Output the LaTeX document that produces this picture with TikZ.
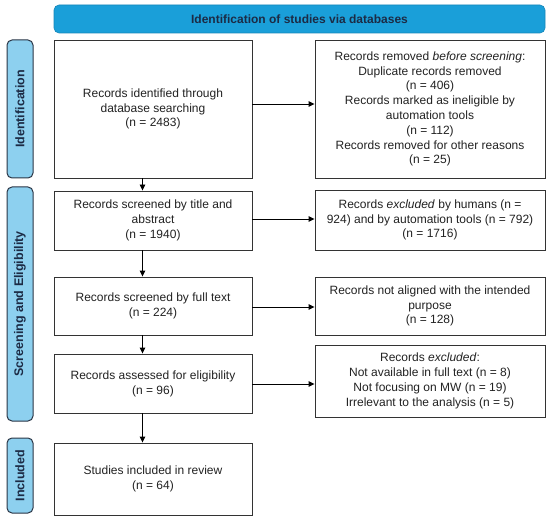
\documentclass[tikz,border=0pt]{standalone}
\usepackage{fontspec}
\setmainfont{Liberation Sans}
\usetikzlibrary{arrows.meta}
\definecolor{banner}{HTML}{1A9FD9}
\definecolor{bannerdraw}{HTML}{1786B8}
\definecolor{side}{HTML}{8DD0EF}
\definecolor{sidedraw}{HTML}{2A3545}
\definecolor{txt}{HTML}{222222}
\definecolor{navy}{HTML}{1C2B45}
\begin{document}
\begin{tikzpicture}[x=1pt,y=-1pt,
  every node/.style={font=\fontsize{12}{14.8}\selectfont, text=txt},
  box/.style={draw=black!80, line width=0.9pt, fill=white, inner sep=2pt, align=center},
  sidelab/.style={draw=sidedraw, line width=1pt, fill=side, rounded corners=5pt},
  labfont/.style={font=\bfseries\fontsize{12.5}{14}\selectfont, text=navy},
  arr/.style={-{Triangle[length=6pt,width=5.5pt]}, line width=0.9pt, draw=black}]
\useasboundingbox (0,0) rectangle (550,519);
% banner
\draw[draw=bannerdraw, fill=banner, line width=0.6pt, rounded corners=5pt] (54,5) rectangle (545,33);
\node[font=\bfseries\fontsize{12}{14}\selectfont, text=navy] (title) at (299.5,19) {Identification of studies via databases};
% side labels
\draw[sidelab] (7,40) rectangle (33,178);
\node[rotate=90, labfont] (s1) at (20,109) {Identification};
\draw[sidelab] (7,187) rectangle (33,421);
\node[rotate=90, labfont] (s2) at (20,304) {Screening and Eligibility};
\draw[sidelab] (7,438) rectangle (33,513);
\node[rotate=90, labfont] (s3) at (20,475.5) {Included};
% left boxes
\node[box, minimum width=198pt, minimum height=138pt] (b1) at (153,109) {Records identified through\\database searching\\(n = 2483)};
\node[box, minimum width=198pt, minimum height=59pt] (b2) at (153,220.5) {Records screened by title and\\abstract\\(n = 1940)};
\node[box, minimum width=198pt, minimum height=58pt] (b3) at (153,306) {Records screened by full text\\(n = 224)};
\node[box, minimum width=198pt, minimum height=59pt] (b4) at (153,383.5) {Records assessed for eligibility\\(n = 96)};
\node[box, minimum width=198pt, minimum height=72pt] (b5) at (153,479) {Studies included in review\\(n = 64)};
% right boxes
\node[box, minimum width=230pt, minimum height=138pt] (r1) at (430,109) {Records removed \textit{before screening}:\\Duplicate records removed\\(n = 406)\\Records marked as ineligible by\\automation tools\\(n = 112)\\Records removed for other reasons\\(n = 25)};
\node[box, minimum width=230pt, minimum height=60pt] (r2) at (430,220) {Records \textit{excluded} by humans (n =\\924) and by automation tools (n = 792)\\(n = 1716)};
\node[box, minimum width=230pt, minimum height=58pt] (r3) at (430,306) {Records not aligned with the intended\\purpose\\(n = 128)};
\node[box, minimum width=230pt, minimum height=72pt] (r4) at (430,381) {Records \textit{excluded}:\\Not available in full text (n = 8)\\Not focusing on MW (n = 19)\\Irrelevant to the analysis (n = 5)};
% arrows
\draw[arr] (b1.east |- 0,104) -- (r1.west |- 0,104);
\draw[arr] (b2.east |- 0,219) -- (r2.west |- 0,219);
\draw[arr] (b3.east |- 0,307) -- (r3.west |- 0,307);
\draw[arr] (b4.east |- 0,384) -- (r4.west |- 0,384);
\draw[arr] (b1.south -| 142.5,0) -- (b2.north -| 142.5,0);
\draw[arr] (b2.south -| 142.5,0) -- (b3.north -| 142.5,0);
\draw[arr] (b3.south -| 142.5,0) -- (b4.north -| 142.5,0);
\draw[arr] (b4.south -| 142.5,0) -- (b5.north -| 142.5,0);
\end{tikzpicture}
\end{document}
